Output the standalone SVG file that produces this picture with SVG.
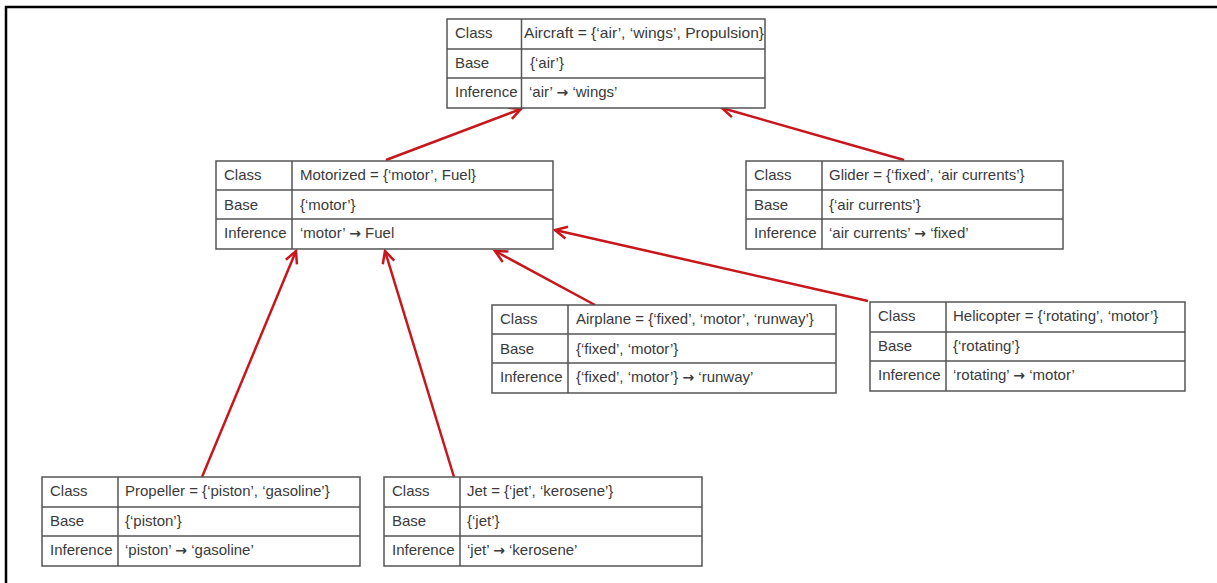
<svg xmlns="http://www.w3.org/2000/svg" width="1217" height="583" viewBox="0 0 1217 583">
<style>
.frame{fill:none;stroke:#000;stroke-width:2.5}
.tb{fill:#fff;stroke:#555;stroke-width:1.5}
.ln{stroke:#555;stroke-width:1.5}
text{font-family:"Liberation Sans",Arial,sans-serif;font-size:15px;fill:#3a3a3a}
.ar{font-family:"DejaVu Sans",sans-serif;font-size:14px;font-weight:bold}
.cn{stroke:#c8161d;stroke-width:2.5;fill:none;marker-end:url(#ah)}
</style>
<defs>
<marker id="ah" markerUnits="userSpaceOnUse" markerWidth="16" markerHeight="16" refX="13" refY="7" orient="auto" viewBox="0 0 16 14">
<path d="M1,1 L13,7 L1,13" fill="none" stroke="#c8161d" stroke-width="2.5"/>
</marker>
</defs>
<rect width="1217" height="583" fill="#fff"/>
<path class="frame" d="M6,583 V7 H1217"/>

<g id="connectors">
<line class="cn" x1="386" y1="160" x2="521" y2="109"/>
<line class="cn" x1="904" y1="160" x2="722" y2="108"/>
<line class="cn" x1="595" y1="305" x2="495" y2="251"/>
<line class="cn" x1="868" y1="301" x2="555" y2="230"/>
<line class="cn" x1="202" y1="477" x2="296" y2="251"/>
<line class="cn" x1="454" y1="477" x2="385" y2="251"/>
</g>

<g id="aircraft">
<rect class="tb" x="447" y="19" width="318" height="89"/>
<line class="ln" x1="447" y1="49" x2="765" y2="49"/>
<line class="ln" x1="447" y1="78" x2="765" y2="78"/>
<line class="ln" x1="521.5" y1="19" x2="521.5" y2="108"/>
<text x="455" y="38">Class</text>
<text x="455" y="68">Base</text>
<text x="455" y="97">Inference</text>
<text x="524" y="38" textLength="240" lengthAdjust="spacingAndGlyphs">Aircraft = {‘air’, ‘wings’, Propulsion}</text>
<text x="530" y="68">{‘air’}</text>
<text x="529" y="97">‘air’ <tspan class="ar">→</tspan> ‘wings’</text>
</g>

<g id="motorized">
<rect class="tb" x="216" y="161" width="337" height="88"/>
<line class="ln" x1="216" y1="190" x2="553" y2="190"/>
<line class="ln" x1="216" y1="219" x2="553" y2="219"/>
<line class="ln" x1="292" y1="161" x2="292" y2="249"/>
<text x="224" y="180">Class</text>
<text x="224" y="210">Base</text>
<text x="224" y="238">Inference</text>
<text x="300" y="180">Motorized = {‘motor’, Fuel}</text>
<text x="300" y="210">{‘motor’}</text>
<text x="300" y="238">‘motor’ <tspan class="ar">→</tspan> Fuel</text>
</g>

<g id="glider">
<rect class="tb" x="746" y="161" width="317" height="88"/>
<line class="ln" x1="746" y1="190" x2="1063" y2="190"/>
<line class="ln" x1="746" y1="219" x2="1063" y2="219"/>
<line class="ln" x1="822" y1="161" x2="822" y2="249"/>
<text x="754" y="180">Class</text>
<text x="754" y="210">Base</text>
<text x="754" y="238">Inference</text>
<text x="829" y="180">Glider = {‘fixed’, ‘air currents’}</text>
<text x="829" y="210">{‘air currents’}</text>
<text x="829" y="238">‘air currents’ <tspan class="ar">→</tspan> ‘fixed’</text>
</g>

<g id="airplane">
<rect class="tb" x="492" y="305" width="344" height="88"/>
<line class="ln" x1="492" y1="334" x2="836" y2="334"/>
<line class="ln" x1="492" y1="363" x2="836" y2="363"/>
<line class="ln" x1="568" y1="305" x2="568" y2="393"/>
<text x="500" y="324">Class</text>
<text x="500" y="354">Base</text>
<text x="500" y="382">Inference</text>
<text x="576" y="324">Airplane = {‘fixed’, ‘motor’, ‘runway’}</text>
<text x="576" y="354">{‘fixed’, ‘motor’}</text>
<text x="576" y="382">{‘fixed’, ‘motor’} <tspan class="ar">→</tspan> ‘runway’</text>
</g>

<g id="helicopter">
<rect class="tb" x="870" y="302" width="315" height="89"/>
<line class="ln" x1="870" y1="332" x2="1185" y2="332"/>
<line class="ln" x1="870" y1="361" x2="1185" y2="361"/>
<line class="ln" x1="946" y1="302" x2="946" y2="391"/>
<text x="878" y="321">Class</text>
<text x="878" y="351">Base</text>
<text x="878" y="380">Inference</text>
<text x="953" y="321">Helicopter = {‘rotating’, ‘motor’}</text>
<text x="953" y="351">{‘rotating’}</text>
<text x="953" y="380">‘rotating’ <tspan class="ar">→</tspan> ‘motor’</text>
</g>

<g id="propeller">
<rect class="tb" x="42" y="477" width="318" height="89"/>
<line class="ln" x1="42" y1="507" x2="360" y2="507"/>
<line class="ln" x1="42" y1="536" x2="360" y2="536"/>
<line class="ln" x1="118" y1="477" x2="118" y2="566"/>
<text x="50" y="496">Class</text>
<text x="50" y="526">Base</text>
<text x="50" y="555">Inference</text>
<text x="125" y="496">Propeller = {‘piston’, ‘gasoline’}</text>
<text x="125" y="526">{‘piston’}</text>
<text x="125" y="555">‘piston’ <tspan class="ar">→</tspan> ‘gasoline’</text>
</g>

<g id="jet">
<rect class="tb" x="384" y="477" width="318" height="89"/>
<line class="ln" x1="384" y1="507" x2="702" y2="507"/>
<line class="ln" x1="384" y1="536" x2="702" y2="536"/>
<line class="ln" x1="460" y1="477" x2="460" y2="566"/>
<text x="392" y="496">Class</text>
<text x="392" y="526">Base</text>
<text x="392" y="555">Inference</text>
<text x="467" y="496">Jet = {‘jet’, ‘kerosene’}</text>
<text x="467" y="526">{‘jet’}</text>
<text x="467" y="555">‘jet’ <tspan class="ar">→</tspan> ‘kerosene’</text>
</g>
</svg>
